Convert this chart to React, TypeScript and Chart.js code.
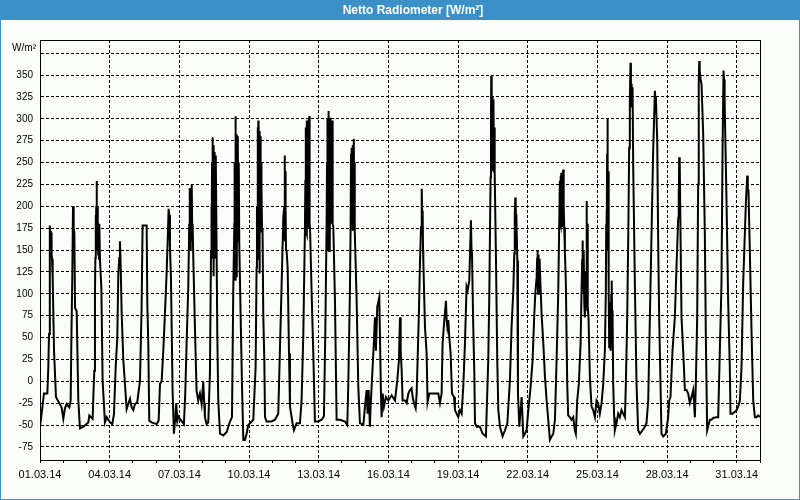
import { useEffect, useRef } from 'react';
import { Chart, registerables } from 'chart.js';

Chart.register(...registerables);

const TITLE = 'Netto Radiometer [W/m²]';
const UNIT_LABEL = 'W/m²';

// x axis: hours since 01.03.14 00:00, labels every 3 days
const dateLabels = [
  '01.03.14', '04.03.14', '07.03.14', '10.03.14', '13.03.14', '16.03.14',
  '19.03.14', '22.03.14', '25.03.14', '28.03.14', '31.03.14',
];
const dayCount = 31;
const yTickValues = [-75, -50, -25, 0, 25, 50, 75, 100, 125, 150, 175, 200, 225, 250, 275, 300, 325, 350, 375];

const hours = [
  0, 1.7, 4.1, 7.6, 8.6, 9.3, 10.0, 10.3, 10.6, 11.0,
  11.3, 11.7, 12.0, 12.4, 13.1, 14.5, 16.5, 18.9, 22.4, 24.1,
  25.8, 27.5, 30.3, 31.7, 32.4, 33.4, 34.1, 34.5, 34.8, 35.1,
  35.5, 36.2, 37.9, 39.6, 41.3, 44.8, 49.9, 51.0, 54.4, 55.1,
  56.1, 56.8, 57.2, 57.5, 57.8, 58.1, 58.5, 58.8, 59.2, 59.5,
  59.9, 60.2, 60.6, 61.0, 61.3, 62.0, 63.4, 64.7, 67.1, 68.9,
  72.3, 74.7, 76.4, 78.2, 79.9, 80.9, 81.9, 82.6, 83.3, 84.4,
  86.1, 87.8, 89.5, 93.0, 94.7, 96.4, 98.1, 100.5, 103.3, 105.0,
  106.0, 110.2, 110.9, 111.9, 112.9, 115.3, 120.5, 122.6, 124.0, 125.7,
  127.4, 129.1, 130.8, 132.2, 132.9, 133.6, 134.3, 135.3, 137.0, 138.4,
  139.5, 140.1, 140.8, 141.9, 142.9, 144.6, 147.4, 148.7, 150.1, 151.5,
  153.2, 154.2, 154.6, 154.9, 155.2, 155.6, 155.9, 156.3, 156.6, 157.0,
  157.3, 157.7, 158.4, 160.1, 161.8, 163.5, 165.3, 167.0, 168.7, 169.7,
  170.4, 172.2, 173.9,
  175.6, 176.7, 177.1, 177.4, 177.8, 178.1, 178.4, 178.7, 179.1, 179.4,
  179.8, 180.1, 180.5, 180.8, 181.2, 181.5, 181.8, 182.5, 183.2, 184.2,
  186.0, 189.4, 192.9, 196.3, 198.4, 199.7, 200.8, 201.1, 201.5, 201.8,
  202.1, 202.5, 202.8, 203.2, 203.5, 203.9, 204.2, 204.6, 205.0, 205.4,
  205.9, 207.3, 208.7, 210.1, 211.8, 213.5, 215.2, 217.0, 220.4, 222.8,
  223.8, 224.2, 224.5, 224.9, 225.2, 225.6, 225.9, 226.3, 226.6, 227.0,
  227.3, 227.7, 228.0, 228.4, 228.7, 229.0, 229.4, 230.0, 230.7, 231.8,
  232.5, 234.2, 239.3, 242.8, 246.2, 248.0, 249.7, 251.4, 252.4, 252.8,
  253.1, 253.5, 253.8, 254.2, 254.8, 255.9, 257.3, 258.3, 261.0, 262.4,
  265.2, 268.6, 270.3, 272.1, 273.8, 274.2, 274.5, 274.8, 275.2, 275.5,
  275.9, 276.2, 276.6, 276.9, 277.2, 277.6, 277.9, 278.3, 278.6, 279.0,
  280.7, 282.4, 284.1, 287.6, 291.0, 293.4, 294.8, 296.2, 296.6, 296.9,
  297.2, 297.6, 297.9, 298.2, 298.6, 298.9, 299.3, 299.6, 300.0, 300.3,
  300.7, 301.0, 301.4, 301.7, 302.1, 302.4, 303.1, 304.8, 306.5, 310.0,
  315.1, 317.5, 318.6, 320.3, 321.0, 321.4, 321.7, 322.0, 322.4, 322.7,
  323.0, 323.4, 323.7, 324.1, 324.4, 324.8, 325.1, 325.4, 327.2, 328.9,
  330.6, 334.1, 335.8, 337.5, 338.5, 339.6, 340.9, 341.6, 343.7, 345.1,
  346.1, 347.1, 348.5, 350.6,
  352.3, 353.0, 354.1, 355.4, 357.5, 359.9, 363.4, 366.8, 369.2, 370.9,
  372.0, 372.7, 373.7, 374.7, 377.1, 378.9, 380.6, 382.3, 384.0, 385.1,
  386.4, 388.2, 389.2, 390.2, 391.6, 392.6, 393.7, 394.2, 394.7, 395.1,
  395.4, 395.8, 396.1, 397.8, 399.5, 400.5, 402.3, 406.4, 409.8, 411.6,
  413.3, 415.0, 416.0, 417.8, 419.5, 420.2, 420.9, 421.9, 422.9, 424.3,
  425.7, 427.8, 428.8, 430.5, 432.2, 434.0, 435.7, 437.4, 439.1, 440.8,
  441.9, 443.6, 445.3, 445.9, 446.4, 447.7, 448.8, 449.5, 451.2, 454.6,
  457.4, 460.8, 463.2, 464.3, 465.6, 466.0, 466.3, 466.6, 466.9, 467.2,
  467.5, 467.8, 468.1, 468.4, 468.8, 469.2, 469.6, 470.1, 471.2, 472.5,
  473.6, 475.3, 478.0, 480.5, 482.9, 485.6, 487.3, 489.1, 490.1, 490.6,
  491.1, 491.4, 491.7, 492.0, 492.2, 493.2, 493.9, 495.3, 497.7, 499.4,
  501.1, 502.8, 504.6, 507.0, 509.0, 510.8, 511.8, 513.2, 513.7, 514.2,
  514.6, 515.0, 515.4, 515.7, 516.1, 516.6, 518.3, 520.1, 521.8, 523.5,
  525.2, 526.9, 528.7, 530.4, 532.1, 533.8, 535.5,
  537.2, 537.6, 537.9, 538.2, 538.6, 538.9, 539.3, 539.6, 540.0, 540.3,
  540.6, 541.0, 541.3, 541.7, 542.4, 543.4, 544.8, 545.8, 547.5, 549.3,
  551.0, 552.7, 553.7, 555.1, 556.8, 558.6, 559.6, 560.3, 560.6, 560.9,
  561.3, 561.6, 562.0, 562.4, 563.0, 563.4, 563.7, 564.1, 564.5, 564.8,
  565.1, 565.4, 565.8, 566.2, 566.8, 568.2, 569.9, 571.6, 573.4, 575.1,
  576.8, 578.5, 580.3, 582.0, 583.7, 584.7, 585.1, 585.4, 585.7, 586.0,
  586.4, 586.7, 587.1, 587.5, 587.8, 588.2, 588.5, 588.9, 589.2, 589.6,
  589.9, 590.3, 590.6, 590.9, 591.3, 591.6, 592.3, 593.3, 594.0, 595.7,
  597.5, 599.2, 600.9, 602.6, 604.4, 605.4, 606.8, 608.1, 608.8, 609.5,
  610.2, 610.6, 610.9, 611.2, 611.6, 611.9, 612.3, 613.0, 614.7, 616.4,
  618.1, 619.9, 622.6, 625.0, 626.7, 628.5, 630.2, 631.9, 633.6, 635.4,
  635.9, 636.4, 637.1, 637.8, 638.8, 639.8, 641.2, 642.2, 644.0, 646.7,
  649.1, 650.2, 651.5, 653.6, 656.0, 657.7, 659.5, 659.9, 660.2, 660.5,
  660.9, 661.2, 661.9, 662.9, 664.6, 666.4, 668.1, 669.8, 671.5, 673.2,
  675.0, 676.7, 677.7, 679.1, 680.1, 680.7, 681.2, 681.5, 681.8, 682.7,
  683.6, 685.3, 687.0, 688.0, 689.4, 692.2, 693.9, 695.6, 699.1, 700.8,
  702.5, 704.2, 705.3, 706.3, 706.8, 707.2, 707.7, 709.4, 711.1, 712.8,
  713.5, 715.6, 718.0, 719.7, 721.4, 723.2, 724.9, 726.6, 728.3, 729.4,
  730.8, 731.4, 732.1, 733.5, 735.3, 737.0, 738.7, 740.4, 742.1, 744,
];

const netRadiation = [
  -52, -37, -14, -14, 16, 54, 150, 178, 155, 172,
  150, 170, 145, 140, 118, 35, -18, -23, -30, -43,
  -31, -26, -30, -22, 46, 122, 200, 160, 150, 175,
  170, 84, 80, -22, -54, -52, -47, -39, -43, -18,
  12, 100, 141, 190, 150, 200, 229, 150, 200, 150,
  183, 145, 180, 140, 180, 138, 107, 1, -47, -41,
  -47, -49, -38, 16, 50, 122, 141, 160, 135, 77,
  24, -3, -32, -20, -30, -33, -26, -24, 0, 84,
  178, 178, 88, 43, -45, -47, -49, -45, -3, 0,
  35, 77, 122, 170, 197, 190, 153, 119, -11, -60,
  -45, -37, -25, -45, -40, -43, -47, -49, -14, 43,
  107, 180, 150, 221, 150, 160, 210, 215, 160, 225,
  170, 180, 141, 61, -11, -22, -14, -26, -1, -25,
  -41, -49, -47,
  9, 149, 200, 150, 250, 160, 279, 140, 270, 120,
  262, 150, 260, 140, 258, 160, 255, 149, 54, -22,
  -60, -62, -58, -46, -41, 104, 180, 250, 120, 303,
  115, 290, 120, 282, 130, 280, 200, 278, 160, 250,
  157, 77, -3, -67, -67, -60, -50, -48, -44, 16,
  130, 200, 140, 290, 150, 298, 140, 280, 123, 286,
  180, 280, 175, 250, 170, 225, 175, 168, 77, 24,
  -41, -46, -46, -44, -37, 39, 111, 187, 200, 258,
  160, 240, 195, 150, 149, 130, 32, -29, -48, -56,
  -48, -48, -22, 54, 176, 230, 180, 290, 170, 298,
  168, 295, 175, 298, 190, 300, 200, 303, 180, 176,
  100, 32, -46, -46, -44, -40, 54, 183, 250, 160,
  300, 150, 309, 160, 295, 149, 290, 160, 301, 180,
  298, 190, 295, 200, 298, 180, 176, 92, -44, -44,
  -46, -50, -3, 107, 180, 260, 190, 267, 180, 265,
  172, 270, 175, 272, 277, 180, 250, 172, 92, -6,
  -48, -50, -29, -10, -37, -10, -52, -30, 16, 47,
  73, 35, 85, 96,
  -14, -41, -14, -29, -18, -22, -16, -22, 1, 24,
  73, 35, 13, -22, -22, -25, -14, -10, -8, -18,
  -25, -31, -14, 24, 81, 134, 176, 200, 220, 180,
  195, 150, 138, 62, 32, -24, -14, -14, -14, -14,
  -25, -14, 43, 70, 92, 70, 62, 70, 51, 32,
  -14, -18, -33, -37, -41, -33, -37, -6, 43, 108,
  104, 115, 184, 150, 146, 62, 9, -48, -52, -52,
  -60, -63, 24, 100, 233, 300, 349, 250, 330, 245,
  325, 240, 322, 245, 315, 240, 290, 237, 138, 24,
  -33, -52, -63, -56, -48, 1, 62, 104, 146, 190,
  210, 150, 205, 160, 191, 138, -14, -52, -18, -63,
  -60, -56, -33, -6, 24, 77, 100, 119, 140, 149,
  100, 145, 100, 140, 100, 134, 77, 43, 5, -22,
  -44, -67, -63, -60, -44, 24, 100,
  229, 180, 235, 178, 238, 180, 236, 185, 240, 176,
  242, 180, 200, 176, 149, 111, -3, -39, -41, -44,
  -41, -56, -60, -22, -3, 43, 104, 140, 161, 110,
  150, 100, 149, 90, 73, 110, 80, 126, 90, 206,
  90, 180, 142, 85, 73, 5, -29, -33, -41, -22,
  -25, -37, -25, -3, 35, 104, 180, 195, 150, 260,
  301, 160, 240, 225, 100, 39, 80, 73, 40, 90,
  35, 100, 60, 115, 60, 81, -3, -41, -56, -48,
  -37, -41, -33, -37, -41, -3, 73, 187, 267, 320,
  364, 320, 340, 313, 335, 315, 336, 244, 111, -3,
  -56, -60, -56, -52, -48, -22, 73, 168, 263, 332,
  320, 325, 300, 275, 157, 73, -3, -60, -63, -60,
  -41, -22, -18, 35, 73, 130, 187, 220, 200, 256,
  200, 250, 165, 73, 35, -10, -10, -14, -25, -18,
  -10, -41, -3, 73, 225, 340, 366, 345, 355, 345,
  339, 282, 168, 54, -56, -44, -44, -42, -41, -41,
  35, 111, 263, 355, 345, 330, 320, 206, 92, 16,
  -37, -37, -35, -33, -29, -22, 16, 111, 168, 203,
  235, 220, 218, 149, 54, -22, -41, -41, -39, -41,
];

const BLUE = '#3c90c8';
const BG = '#fbfdfb';
const LABEL_FONT = '"Liberation Sans", Arial, sans-serif';

export default function App() {
  const ref = useRef<HTMLCanvasElement | null>(null);

  useEffect(() => {
    const canvas = ref.current;
    if (!canvas) return;

    const framePlugin = {
      id: 'frame',
      beforeDraw(chart: any) {
        const { ctx, width, height } = chart;
        ctx.save();
        ctx.fillStyle = BG;
        ctx.fillRect(0, 0, width, height);
        ctx.fillStyle = BLUE;
        ctx.fillRect(0, 0, width, 20);
        ctx.strokeStyle = BLUE;
        ctx.lineWidth = 1;
        ctx.strokeRect(0.5, 0.5, width - 1, height - 1);
        ctx.fillStyle = '#ffffff';
        ctx.font = `bold 12px ${LABEL_FONT}`;
        ctx.textAlign = 'center';
        ctx.textBaseline = 'middle';
        ctx.fillText(TITLE, 413, 11);
        ctx.restore();
      },
      afterDraw(chart: any) {
        const { ctx, chartArea } = chart;
        ctx.save();
        ctx.strokeStyle = '#000';
        ctx.lineWidth = 1;
        ctx.setLineDash([]);
        ctx.strokeRect(
          Math.round(chartArea.left) + 0.5,
          Math.round(chartArea.top) + 0.5,
          Math.round(chartArea.right - chartArea.left),
          Math.round(chartArea.bottom - chartArea.top),
        );
        ctx.fillStyle = '#000';
        ctx.font = `10px ${LABEL_FONT}`;
        ctx.textAlign = 'right';
        ctx.textBaseline = 'alphabetic';
        ctx.fillText(UNIT_LABEL, chartArea.left - 4, chartArea.top + 11);
        ctx.restore();
      },
    };

    const points = hours.map((h, i) => ({ x: h, y: netRadiation[i] }));
    const lastHour = dayCount * 24;

    const chart = new Chart(canvas, {
      type: 'line',
      data: {
        datasets: [
          {
            label: TITLE,
            data: points,
            borderColor: '#000000',
            borderWidth: 2,
            pointRadius: 0,
            tension: 0,
            fill: false,
          },
        ],
      },
      options: {
        responsive: false,
        animation: false,
        events: [],
        layout: { padding: { left: 0, right: 40, top: 40, bottom: 0 } },
        plugins: {
          legend: { display: false },
          title: { display: false },
          tooltip: { enabled: false },
        },
        scales: {
          x: {
            type: 'linear',
            min: 0,
            max: lastHour,
            afterBuildTicks: (scale: any) => {
              scale.ticks = Array.from({ length: dayCount + 1 }, (_, d) => ({ value: d * 24 }));
            },
            afterFit: (scale: any) => {
              scale.height = 40;
            },
            ticks: {
              autoSkip: false,
              maxRotation: 0,
              minRotation: 0,
              padding: 5,
              color: '#000',
              font: { family: LABEL_FONT, size: 11 },
              callback: (v: any) => {
                const val = Number(v);
                if (val % 72 !== 0) return '';
                return dateLabels[val / 72] ?? '';
              },
            },
            grid: {
              color: (c: any) => {
                const v = c.tick ? c.tick.value : -1;
                return v % 72 === 0 && v > 0 && v < lastHour ? '#000' : 'rgba(0,0,0,0)';
              },
              lineWidth: 1,
              drawTicks: true,
              tickLength: 3,
              tickColor: '#000',
              tickWidth: 1,
            },
            border: { display: true, color: '#000', width: 1, dash: [3, 2] },
          },
          y: {
            type: 'linear',
            min: -90,
            max: 390,
            afterBuildTicks: (scale: any) => {
              scale.ticks = yTickValues.map((v) => ({ value: v }));
            },
            afterFit: (scale: any) => {
              scale.width = 40;
            },
            ticks: {
              padding: 7,
              color: '#000',
              font: { family: LABEL_FONT, size: 10 },
              callback: (v: any) => (Number(v) === 375 ? '' : String(v)),
            },
            grid: {
              color: '#000',
              lineWidth: 1,
              drawTicks: false,
            },
            border: { display: true, color: '#000', width: 1, dash: [3, 2] },
          },
        },
      },
      plugins: [framePlugin],
    } as any);

    return () => chart.destroy();
  }, []);

  return (
    <div style={{ position: 'fixed', left: 0, top: 0, width: 800, height: 500 }}>
      <canvas ref={ref} width={800} height={500} style={{ display: 'block' }} />
    </div>
  );
}
